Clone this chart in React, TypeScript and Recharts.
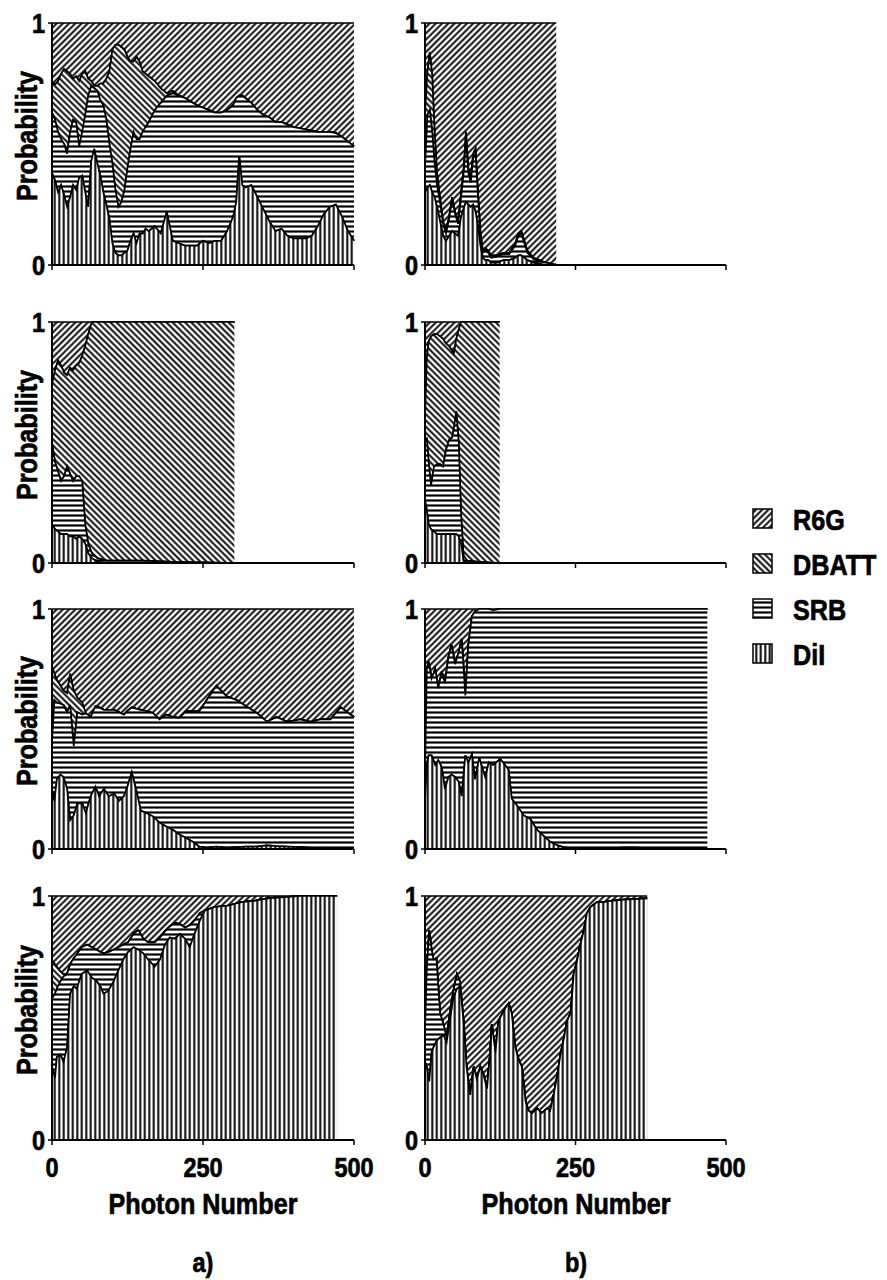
import { ComposedChart, Area, XAxis, YAxis } from "recharts";

const FONT = "'Liberation Sans', Arial, sans-serif";
const SQUEEZE = 0.84; // narrow the bold sans to the condensed look of the original lettering
const HEAVY = 0.7; // extra outline so the lettering reads as heavy as the original

// Each panel: photon number of each sample and the cumulative probability
// reached at the top of the DiI, SRB and DBATT bands (R6G fills up to 1).

// a) row 1
const a1Photon = [
  0, 5, 10, 15, 20, 25, 30, 35, 40, 45,
  50, 55, 60, 65, 70, 75, 80, 85, 90, 95,
  100, 105, 110, 115, 120, 125, 130, 135, 140, 145,
  150, 155, 160, 170, 180, 190, 200, 210, 220, 230,
  240, 250, 260, 270, 280, 290, 300, 305, 310, 315,
  320, 330, 340, 350, 360, 370, 380, 390, 400, 410,
  420, 430, 440, 450, 460, 470, 480, 490, 500,
];
const a1Dil = [
  0.38, 0.35, 0.3, 0.33, 0.29, 0.24, 0.28, 0.33, 0.31, 0.36,
  0.37, 0.3, 0.24, 0.43, 0.48, 0.42, 0.37, 0.3, 0.25, 0.19,
  0.09, 0.05, 0.04, 0.04, 0.05, 0.06, 0.1, 0.13, 0.09, 0.13,
  0.13, 0.15, 0.14, 0.16, 0.13, 0.22, 0.1, 0.09, 0.08, 0.08,
  0.08, 0.1, 0.09, 0.1, 0.1, 0.14, 0.2, 0.26, 0.45, 0.33,
  0.32, 0.33, 0.28, 0.23, 0.18, 0.14, 0.15, 0.12, 0.11, 0.11,
  0.11, 0.12, 0.16, 0.21, 0.24, 0.25, 0.2, 0.14, 0.1,
];
const a1Srb = [
  0.63, 0.6, 0.55, 0.52, 0.5, 0.46, 0.55, 0.6, 0.59, 0.49,
  0.55, 0.62, 0.7, 0.74, 0.73, 0.72, 0.68, 0.66, 0.6, 0.5,
  0.42, 0.31, 0.24, 0.26, 0.31, 0.4, 0.48, 0.55, 0.52, 0.52,
  0.55, 0.57, 0.59, 0.64, 0.67, 0.7, 0.71, 0.7, 0.69, 0.675,
  0.66, 0.65, 0.64, 0.63, 0.63, 0.64, 0.66, 0.69, 0.7, 0.7,
  0.69, 0.67, 0.64, 0.62, 0.61, 0.59, 0.59, 0.58, 0.57, 0.565,
  0.56, 0.555, 0.55, 0.55, 0.55, 0.545, 0.53, 0.51, 0.49,
];
const a1Dbatt = [
  0.76, 0.745, 0.76, 0.79, 0.81, 0.8, 0.79, 0.77, 0.78, 0.76,
  0.79, 0.8, 0.77, 0.76, 0.74, 0.74, 0.75, 0.75, 0.77, 0.8,
  0.89, 0.91, 0.91, 0.9, 0.89, 0.86, 0.84, 0.84, 0.86, 0.84,
  0.8, 0.79, 0.78, 0.76, 0.73, 0.71, 0.72, 0.7, 0.69, 0.675,
  0.66, 0.65, 0.64, 0.63, 0.63, 0.64, 0.66, 0.69, 0.7, 0.7,
  0.69, 0.67, 0.64, 0.62, 0.61, 0.59, 0.59, 0.58, 0.57, 0.565,
  0.56, 0.555, 0.55, 0.55, 0.55, 0.545, 0.53, 0.51, 0.49,
];

// b) row 1
const b1Photon = [
  0, 4, 8, 12, 16, 20, 25, 30, 35, 40,
  45, 50, 55, 60, 65, 68, 72, 76, 80, 84,
  88, 92, 96, 100, 105, 110, 120, 130, 140, 150,
  155, 160, 165, 170, 180, 190, 200, 210, 218,
];
const b1Dil = [
  0.3, 0.32, 0.33, 0.3, 0.28, 0.24, 0.18, 0.12, 0.1, 0.12,
  0.14, 0.13, 0.12, 0.2, 0.24, 0.26, 0.25, 0.24, 0.25, 0.22,
  0.16, 0.08, 0.03, 0.02, 0.02, 0.01, 0.01, 0.02, 0.02, 0.03,
  0.04, 0.04, 0.03, 0.02, 0.01, 0.005, 0, 0, 0,
];
const b1Srb = [
  0.4, 0.62, 0.64, 0.55, 0.42, 0.33, 0.26, 0.17, 0.13, 0.19,
  0.27, 0.21, 0.17, 0.28, 0.4, 0.52, 0.38, 0.34, 0.44, 0.46,
  0.28, 0.12, 0.05, 0.06, 0.05, 0.03, 0.035, 0.045, 0.045, 0.08,
  0.12, 0.13, 0.09, 0.05, 0.025, 0.015, 0.01, 0.005, 0,
];
const b1Dbatt = [
  0.62, 0.8, 0.88, 0.78, 0.55, 0.38, 0.28, 0.18, 0.14, 0.2,
  0.28, 0.22, 0.18, 0.3, 0.42, 0.55, 0.4, 0.36, 0.46, 0.48,
  0.3, 0.14, 0.06, 0.07, 0.06, 0.04, 0.04, 0.05, 0.05, 0.09,
  0.13, 0.14, 0.1, 0.06, 0.03, 0.02, 0.01, 0.005, 0,
];

// a) row 2
const a2Photon = [
  0, 5, 10, 15, 20, 25, 30, 35, 40, 45,
  50, 55, 60, 66, 75, 90, 120, 150, 200, 250,
  302,
];
const a2Dil = [
  0.16, 0.14, 0.13, 0.12, 0.12, 0.12, 0.11, 0.11, 0.1, 0.11,
  0.1, 0.08, 0.04, 0.02, 0.005, 0, 0, 0, 0, 0,
  0,
];
const a2Srb = [
  0.5, 0.42, 0.38, 0.34, 0.36, 0.4, 0.37, 0.34, 0.36, 0.36,
  0.34, 0.16, 0.08, 0.04, 0.02, 0.01, 0.01, 0.01, 0.005, 0.003,
  0,
];
const a2Dbatt = [
  0.74, 0.8, 0.84, 0.82, 0.79, 0.78, 0.81, 0.8, 0.82, 0.83,
  0.86, 0.9, 0.95, 1, 1, 1, 1, 1, 1, 1,
  1,
];

// b) row 2
const b2Photon = [
  0, 3, 6, 10, 15, 20, 25, 30, 35, 40,
  45, 48, 52, 56, 60, 64, 70, 90, 124,
];
const b2Dil = [
  0.26, 0.22, 0.16, 0.14, 0.13, 0.12, 0.12, 0.12, 0.12, 0.12,
  0.12, 0.12, 0.12, 0.11, 0.08, 0.01, 0, 0, 0,
];
const b2Srb = [
  0.5, 0.52, 0.42, 0.32, 0.4, 0.41, 0.41, 0.4, 0.47, 0.51,
  0.52, 0.56, 0.63, 0.5, 0.2, 0.03, 0.01, 0.005, 0,
];
const b2Dbatt = [
  0.6, 0.85, 0.92, 0.94, 0.95, 0.95, 0.94, 0.93, 0.91, 0.9,
  0.88, 0.87, 0.93, 0.97, 1, 1, 1, 1, 1,
];

// a) row 3
const a3Photon = [
  0, 4, 8, 14, 19, 25, 30, 36, 42, 50,
  56, 64, 72, 78, 86, 94, 103, 111, 119, 125,
  132, 139, 147, 156, 167, 178, 189, 200, 211, 222,
  233, 244, 256, 272, 289, 306, 322, 339, 356, 372,
  389, 411, 428, 444, 461, 478, 489, 500,
];
const a3Dil = [
  0.25, 0.2, 0.29, 0.31, 0.3, 0.25, 0.12, 0.14, 0.19, 0.19,
  0.15, 0.22, 0.26, 0.22, 0.25, 0.22, 0.23, 0.2, 0.22, 0.26,
  0.32, 0.25, 0.16, 0.15, 0.136, 0.11, 0.094, 0.08, 0.06, 0.046,
  0.03, 0.01, 0.005, 0.01, 0.005, 0.008, 0.01, 0.01, 0.015, 0.012,
  0.01, 0.008, 0.005, 0.005, 0.004, 0.003, 0.003, 0.003,
];
const a3Srb = [
  0.45, 0.62, 0.61, 0.605, 0.6, 0.57, 0.6, 0.43, 0.57, 0.56,
  0.565, 0.55, 0.595, 0.59, 0.58, 0.58, 0.58, 0.57, 0.56, 0.575,
  0.59, 0.585, 0.58, 0.575, 0.567, 0.54, 0.56, 0.55, 0.546, 0.574,
  0.574, 0.574, 0.62, 0.68, 0.636, 0.62, 0.594, 0.567, 0.53, 0.55,
  0.53, 0.54, 0.53, 0.54, 0.54, 0.59, 0.57, 0.55,
];
const a3Dbatt = [
  0.76, 0.73, 0.705, 0.68, 0.66, 0.65, 0.73, 0.66, 0.63, 0.61,
  0.565, 0.55, 0.595, 0.59, 0.58, 0.58, 0.58, 0.57, 0.56, 0.575,
  0.59, 0.585, 0.58, 0.575, 0.567, 0.54, 0.56, 0.55, 0.546, 0.574,
  0.574, 0.574, 0.62, 0.68, 0.636, 0.62, 0.594, 0.567, 0.53, 0.55,
  0.53, 0.54, 0.53, 0.54, 0.54, 0.59, 0.57, 0.55,
];

// b) row 3
const b3Photon = [
  0, 3, 6, 11, 17, 22, 28, 33, 39, 44,
  50, 56, 61, 67, 72, 78, 83, 90, 100, 106,
  113, 125, 139, 144, 153, 164, 175, 186, 197, 208,
  220, 231, 250, 300, 330, 350, 380, 469,
];
const b3Dil = [
  0.2, 0.35, 0.39, 0.39, 0.35, 0.37, 0.34, 0.25, 0.3, 0.31,
  0.3, 0.28, 0.22, 0.39, 0.36, 0.395, 0.29, 0.38, 0.3, 0.36,
  0.35, 0.375, 0.33, 0.21, 0.18, 0.14, 0.125, 0.08, 0.055, 0.03,
  0.015, 0.007, 0.002, 0.002, 0.006, 0.006, 0.002, 0,
];
const b3Srb = [
  0.3, 0.75, 0.78, 0.71, 0.75, 0.67, 0.74, 0.69, 0.8, 0.85,
  0.77, 0.82, 0.875, 0.64, 0.85, 0.97, 0.99, 1, 1, 1,
  0.995, 1, 1, 1, 1, 1, 1, 1, 1, 1,
  1, 1, 1, 1, 1, 1, 1, 1,
];
const b3Dbatt = [
  0.3, 0.75, 0.78, 0.71, 0.75, 0.67, 0.74, 0.69, 0.8, 0.85,
  0.77, 0.82, 0.875, 0.64, 0.85, 0.97, 0.99, 1, 1, 1,
  0.995, 1, 1, 1, 1, 1, 1, 1, 1, 1,
  1, 1, 1, 1, 1, 1, 1, 1,
];

// a) row 4
const a4Photon = [
  0, 5, 8, 14, 19, 25, 30, 36, 41, 49,
  58, 66, 74, 80, 85, 93, 102, 110, 118, 126,
  135, 143, 151, 159, 170, 179, 187, 195, 203, 212,
  220, 228, 236, 245, 253, 269, 291, 313, 335, 357,
  385, 412, 472,
];
const a4Dil = [
  0.3, 0.255, 0.34, 0.35, 0.32, 0.38, 0.6, 0.63, 0.62, 0.68,
  0.695, 0.665, 0.65, 0.63, 0.6, 0.61, 0.65, 0.695, 0.74, 0.77,
  0.79, 0.78, 0.765, 0.74, 0.71, 0.74, 0.8, 0.83, 0.825, 0.845,
  0.825, 0.79, 0.845, 0.9, 0.94, 0.955, 0.96, 0.975, 0.98, 0.99,
  0.995, 1, 1,
];
const a4Srb = [
  0.58, 0.6, 0.62, 0.65, 0.67, 0.68, 0.72, 0.745, 0.76, 0.79,
  0.8, 0.79, 0.78, 0.77, 0.765, 0.77, 0.78, 0.79, 0.8, 0.81,
  0.845, 0.86, 0.825, 0.81, 0.81, 0.83, 0.855, 0.875, 0.89, 0.885,
  0.87, 0.88, 0.9, 0.93, 0.94, 0.955, 0.96, 0.975, 0.98, 0.99,
  0.995, 1, 1,
];
const a4Dbatt = [
  0.735, 0.72, 0.71, 0.69, 0.68, 0.68, 0.72, 0.745, 0.76, 0.79,
  0.8, 0.79, 0.78, 0.77, 0.765, 0.77, 0.78, 0.79, 0.8, 0.81,
  0.845, 0.86, 0.825, 0.81, 0.81, 0.83, 0.855, 0.875, 0.89, 0.885,
  0.87, 0.88, 0.9, 0.93, 0.94, 0.955, 0.96, 0.975, 0.98, 0.99,
  0.995, 1, 1,
];

// b) row 4
const b4Photon = [
  0, 3, 7, 11, 14, 19, 25, 31, 36, 42,
  47, 53, 58, 64, 69, 75, 81, 86, 92, 97,
  103, 108, 111, 117, 122, 128, 133, 139, 144, 150,
  156, 161, 167, 172, 178, 186, 194, 203, 208, 214,
  219, 225, 231, 236, 242, 247, 253, 258, 264, 269,
  275, 286, 297, 308, 331, 369,
];
const b4Dil = [
  0.32, 0.3, 0.24, 0.36, 0.38, 0.405, 0.42, 0.43, 0.4, 0.5,
  0.58, 0.62, 0.63, 0.49, 0.3, 0.185, 0.3, 0.25, 0.3, 0.27,
  0.21, 0.35, 0.475, 0.36, 0.49, 0.515, 0.54, 0.56, 0.52, 0.38,
  0.325, 0.3, 0.16, 0.12, 0.11, 0.13, 0.11, 0.13, 0.12, 0.19,
  0.255, 0.35, 0.42, 0.49, 0.52, 0.68, 0.74, 0.8, 0.86, 0.93,
  0.955, 0.975, 0.975, 0.98, 0.985, 0.99,
];
const b4Srb = [
  0.45, 0.7, 0.86, 0.78, 0.74, 0.745, 0.52, 0.47, 0.42, 0.53,
  0.61, 0.68, 0.65, 0.49, 0.3, 0.185, 0.3, 0.25, 0.3, 0.27,
  0.21, 0.35, 0.475, 0.36, 0.49, 0.515, 0.54, 0.56, 0.52, 0.38,
  0.325, 0.3, 0.16, 0.12, 0.11, 0.13, 0.11, 0.13, 0.12, 0.19,
  0.255, 0.35, 0.42, 0.49, 0.52, 0.68, 0.74, 0.8, 0.86, 0.93,
  0.955, 0.975, 0.975, 0.98, 0.985, 0.99,
];
const b4Dbatt = [
  0.45, 0.7, 0.86, 0.78, 0.74, 0.745, 0.52, 0.47, 0.42, 0.53,
  0.61, 0.68, 0.65, 0.49, 0.3, 0.185, 0.3, 0.25, 0.3, 0.27,
  0.21, 0.35, 0.475, 0.36, 0.49, 0.515, 0.54, 0.56, 0.52, 0.38,
  0.325, 0.3, 0.16, 0.12, 0.11, 0.13, 0.11, 0.13, 0.12, 0.19,
  0.255, 0.35, 0.42, 0.49, 0.52, 0.68, 0.74, 0.8, 0.86, 0.93,
  0.955, 0.975, 0.975, 0.98, 0.985, 0.99,
];

const dyeNames = ["R6G", "DBATT", "SRB", "DiI"];
const hatchIds = ["hatch-r6g", "hatch-dbatt", "hatch-srb", "hatch-dil"];
const xTicks = [0, 250, 500];
const yTicks = [0, 1];
const columnCaptions = ["a)", "b)"];

// layout (page pixels of each plot area)
const colLeft = [52, 425];
const colWidth = [302, 301];
const rowTop = [23, 322, 609, 896];
const rowHeight = [242, 241, 240, 244];
const Y_W = 40;
const PAD_T = 14;
const PAD_R = 30;

const panels = [
  { id: "a1", col: 0, row: 0, photon: a1Photon, dil: a1Dil, srb: a1Srb, dbatt: a1Dbatt },
  { id: "b1", col: 1, row: 0, photon: b1Photon, dil: b1Dil, srb: b1Srb, dbatt: b1Dbatt },
  { id: "a2", col: 0, row: 1, photon: a2Photon, dil: a2Dil, srb: a2Srb, dbatt: a2Dbatt },
  { id: "b2", col: 1, row: 1, photon: b2Photon, dil: b2Dil, srb: b2Srb, dbatt: b2Dbatt },
  { id: "a3", col: 0, row: 2, photon: a3Photon, dil: a3Dil, srb: a3Srb, dbatt: a3Dbatt },
  { id: "b3", col: 1, row: 2, photon: b3Photon, dil: b3Dil, srb: b3Srb, dbatt: b3Dbatt },
  { id: "a4", col: 0, row: 3, photon: a4Photon, dil: a4Dil, srb: a4Srb, dbatt: a4Dbatt },
  { id: "b4", col: 1, row: 3, photon: b4Photon, dil: b4Dil, srb: b4Srb, dbatt: b4Dbatt },
];

const labelFont = {
  fontFamily: FONT,
  fontWeight: 700,
  color: "#000",
  WebkitTextStroke: `${HEAVY}px #000`,
};

const HatchDefs = () => (
  <svg width={0} height={0} style={{ position: "absolute", left: 0, top: 0 }}>
    <defs>
      <pattern id="hatch-r6g" width={4.4} height={4.4} patternUnits="userSpaceOnUse" patternTransform="rotate(45)">
        <rect width={4.4} height={4.4} fill="#fff" />
        <line x1={2.2} y1={0} x2={2.2} y2={4.4} stroke="#000" strokeWidth={1.9} />
      </pattern>
      <pattern id="hatch-dbatt" width={4.4} height={4.4} patternUnits="userSpaceOnUse" patternTransform="rotate(-45)">
        <rect width={4.4} height={4.4} fill="#fff" />
        <line x1={2.2} y1={0} x2={2.2} y2={4.4} stroke="#000" strokeWidth={1.9} />
      </pattern>
      <pattern id="hatch-srb" width={10} height={5} patternUnits="userSpaceOnUse">
        <rect width={10} height={5} fill="#fff" />
        <line x1={0} y1={2.5} x2={10} y2={2.5} stroke="#000" strokeWidth={2.2} />
      </pattern>
      <pattern id="hatch-dil" width={4.5} height={10} patternUnits="userSpaceOnUse">
        <rect width={4.5} height={10} fill="#fff" />
        <line x1={2.25} y1={0} x2={2.25} y2={10} stroke="#000" strokeWidth={2} />
      </pattern>
    </defs>
  </svg>
);

// tick text, squeezed horizontally around its anchor point
const makeTick = (axis: "x" | "y", show: boolean) => (props: any) => {
  const { x, y, payload, textAnchor } = props;
  if (!show) return <g />;
  return (
    <g transform={`translate(${x},${y}) scale(${SQUEEZE},1)`}>
      <text
        x={0}
        y={0}
        dy={axis === "x" ? "0.71em" : "0.355em"}
        textAnchor={textAnchor}
        fill="#000"
        stroke="#000"
        strokeWidth={HEAVY}
        fontSize={28}
        fontWeight={700}
        fontFamily={FONT}
      >
        {payload.value}
      </text>
    </g>
  );
};

type PanelProps = {
  col: number;
  row: number;
  photon: number[];
  dil: number[];
  srb: number[];
  dbatt: number[];
};

const Panel = ({ col, row, photon, dil, srb, dbatt }: PanelProps) => {
  const bottomRow = row === rowTop.length - 1;
  const xh = bottomRow ? 45 : 22;
  const w = colWidth[col];
  const h = rowHeight[row];

  // range bands stacked from the bottom: DiI, SRB, DBATT, R6G
  const data = photon.map((x, i) => ({
    x,
    dil: [0, dil[i]],
    srb: [dil[i], srb[i]],
    dbatt: [srb[i], dbatt[i]],
    r6g: [dbatt[i], 1],
  }));

  return (
    <div style={{ position: "absolute", left: colLeft[col] - Y_W, top: rowTop[row] - PAD_T }}>
      <ComposedChart
        width={Y_W + w + PAD_R}
        height={PAD_T + h + xh}
        data={data}
        margin={{ top: PAD_T, right: PAD_R, bottom: 0, left: 0 }}
        style={{ overflow: "visible" }}
      >
        {["r6g", "dbatt", "srb", "dil"].map((key, i) => (
          <Area
            key={key}
            dataKey={key}
            type="linear"
            stroke="#000"
            strokeWidth={1.7}
            fill={`url(#${hatchIds[i]})`}
            fillOpacity={1}
            dot={false}
            activeDot={false}
            isAnimationActive={false}
          />
        ))}
        <XAxis
          dataKey="x"
          type="number"
          domain={[0, 500]}
          ticks={xTicks}
          height={xh}
          axisLine={{ stroke: "#000", strokeWidth: 2 }}
          tickLine={{ stroke: "#000", strokeWidth: 1.5 }}
          tickSize={5}
          tickMargin={12}
          tick={makeTick("x", bottomRow)}
        />
        <YAxis
          type="number"
          domain={[0, 1]}
          ticks={yTicks}
          width={Y_W}
          axisLine={{ stroke: "#000", strokeWidth: 2 }}
          tickLine={{ stroke: "#000", strokeWidth: 1.5 }}
          tickSize={4}
          tickMargin={3}
          tick={makeTick("y", true)}
        />
      </ComposedChart>
    </div>
  );
};

const DyeLegend = () => (
  <svg width={142} height={185} style={{ position: "absolute", left: 745, top: 495 }}>
    {dyeNames.map((name, i) => (
      <g key={name} transform={`translate(0, ${35 + i * 45})`}>
        <rect x={8} y={-21} width={19} height={19} fill={`url(#${hatchIds[i]})`} stroke="#000" strokeWidth={1.5} />
        <text
          transform={`translate(48,0) scale(${SQUEEZE},1)`}
          fontSize={30}
          fontWeight={700}
          fontFamily={FONT}
          fill="#000"
          stroke="#000"
          strokeWidth={HEAVY}
        >
          {name}
        </text>
      </g>
    ))}
  </svg>
);

export default function App() {
  return (
    <div style={{ position: "absolute", left: 0, top: 0, width: 887, height: 1280, background: "#fff", overflow: "hidden" }}>
      <HatchDefs />
      {panels.map((p) => (
        <Panel key={p.id} {...p} />
      ))}

      {rowTop.map((top, r) => (
        <div
          key={`ylabel-${r}`}
          style={{
            ...labelFont,
            position: "absolute",
            left: 27,
            top: top + rowHeight[r] / 2 - 8,
            fontSize: 30,
            lineHeight: 1,
            whiteSpace: "nowrap",
            transform: `translate(-50%, -50%) rotate(-90deg) scaleX(${SQUEEZE})`,
          }}
        >
          Probability
        </div>
      ))}

      {colLeft.map((left, c) => (
        <div key={`xlabel-${c}`}>
          <div
            style={{
              ...labelFont,
              position: "absolute",
              left: left + colWidth[c] / 2 - 130,
              width: 260,
              top: 1189,
              fontSize: 30,
              lineHeight: 1,
              textAlign: "center",
              transform: `scaleX(${SQUEEZE})`,
            }}
          >
            Photon Number
          </div>
          <div
            style={{
              ...labelFont,
              position: "absolute",
              left: left + colWidth[c] / 2 - 50,
              width: 100,
              top: 1249,
              fontSize: 28,
              lineHeight: 1,
              textAlign: "center",
              transform: `scaleX(${SQUEEZE})`,
            }}
          >
            {columnCaptions[c]}
          </div>
        </div>
      ))}

      <DyeLegend />
    </div>
  );
}
